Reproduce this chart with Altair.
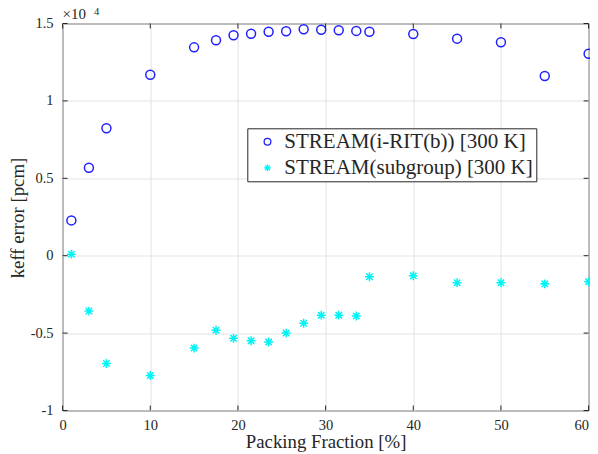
import altair as alt
import pandas as pd

# Packing fraction [%]
packing = [1, 3, 5, 10, 15, 17.5, 19.5, 21.5, 23.5, 25.5, 27.5, 29.5, 31.5, 33.5, 35, 40, 45, 50, 55, 60]
# keff error [pcm]
irit_err = [2280, 5680, 8230, 11690, 13460, 13920, 14240, 14340, 14470, 14500,
            14630, 14600, 14560, 14520, 14470, 14320, 14020, 13790, 11610, 13050]
subgroup_err = [100, -3580, -6960, -7740, -5970, -4810, -5330, -5500, -5580, -5000,
                -4360, -3840, -3840, -3900, -1360, -1300, -1750, -1750, -1820, -1690]
series_names = ["STREAM(i-RIT(b)) [300 K]", "STREAM(subgroup) [300 K]"]
x_ticks = [0, 10, 20, 30, 40, 50, 60]
y_ticks = [-10000, -5000, 0, 5000, 10000, 15000]

df = pd.DataFrame({
    "x": packing * 2,
    "y": irit_err + subgroup_err,
    "series": [series_names[0]] * len(packing) + [series_names[1]] * len(packing),
})

FONT = "Liberation Serif"
TXT = "#262626"
W, H = 526, 387
asterisk = "M0,-1L0,1M-1,0L1,0M-0.72,-0.72L0.72,0.72M-0.72,0.72L0.72,-0.72"

xscale = alt.Scale(domain=[0, 60], nice=False, zero=False)
yscale = alt.Scale(domain=[-10000, 15000], nice=False, zero=False)

points = alt.Chart(df).mark_point(filled=False, size=80, strokeWidth=1.5, opacity=1).encode(
    x=alt.X("x:Q", scale=xscale,
            axis=alt.Axis(values=x_ticks, title="Packing Fraction [%]", labelPadding=8,
                          labelFlush=False, labelOverlap=False, titleY=36.7,
                          labelAlign={"condition": {"test": "datum.value == 60", "value": "right"},
                                      "value": "center"},
                          titleBaseline="alphabetic", grid=True)),
    y=alt.Y("y:Q", scale=yscale,
            axis=alt.Axis(values=y_ticks, title="keff error [pcm]", labelPadding=9.5,
                          labelExpr="toString(datum.value / 10000)", labelFlush=False,
                          labelOverlap=False, titleX=-45, titleY=194, titleAlign="center",
                          titleBaseline="middle", titleAngle=270, grid=True)),
    color=alt.Color("series:N", scale=alt.Scale(domain=series_names, range=["#2020ff", "#00f4f4"]),
                    legend=alt.Legend(title=None)),
    shape=alt.Shape("series:N", scale=alt.Scale(domain=series_names, range=["circle", asterisk]),
                    legend=alt.Legend(title=None)),
)

xt = pd.DataFrame({"x": x_ticks})
yt = pd.DataFrame({"y": y_ticks})
tick_bottom = alt.Chart(xt).mark_rule(color=TXT, strokeWidth=1).encode(
    x=alt.X("x:Q", scale=xscale), y=alt.value(H), y2=alt.value(H - 5))
tick_top = alt.Chart(xt).mark_rule(color=TXT, strokeWidth=1).encode(
    x=alt.X("x:Q", scale=xscale), y=alt.value(0), y2=alt.value(5))
tick_left = alt.Chart(yt).mark_rule(color=TXT, strokeWidth=1).encode(
    y=alt.Y("y:Q", scale=yscale), x=alt.value(0), x2=alt.value(5))
tick_right = alt.Chart(yt).mark_rule(color=TXT, strokeWidth=1).encode(
    y=alt.Y("y:Q", scale=yscale), x=alt.value(W), x2=alt.value(W - 5))

exp_base = alt.Chart(pd.DataFrame({"t": ["×10"]})).mark_text(
    font=FONT, fontSize=15, color=TXT, align="left", baseline="alphabetic").encode(
    text="t:N", x=alt.value(0), y=alt.value(-4.5))
exp_sup = alt.Chart(pd.DataFrame({"t": ["4"]})).mark_text(
    font=FONT, fontSize=10.5, color=TXT, align="left", baseline="alphabetic").encode(
    text="t:N", x=alt.value(31.5), y=alt.value(-9))

chart = alt.layer(points, tick_bottom, tick_top, tick_left, tick_right, exp_base, exp_sup).properties(
    width=W, height=H,
    padding={"left": 54.6, "top": 15.5, "right": 1.4, "bottom": 44},
    autosize=alt.AutoSizeParams(type="none"),
    background="white",
).configure_view(
    stroke=TXT, strokeWidth=1,
).configure_axis(
    labelFont=FONT, labelFontSize=14.5, labelColor=TXT,
    titleFont=FONT, titleFontSize=18.8, titleFontWeight="normal", titleColor=TXT,
    ticks=False, domain=False, gridColor="#e3e3e3", gridWidth=1,
).configure_legend(
    orient="none", legendX=184.7, legendY=104.8,
    padding=3, symbolOffset=6.7, rowPadding=4,
    strokeColor=TXT, fillColor="white",
    labelFont=FONT, labelFontSize=21, labelColor=TXT, labelLimit=400, labelOffset=6.3,
    symbolSize=45, symbolStrokeWidth=1.3, cornerRadius=0,
)

chart.save("out.html", embed_options={"renderer": "svg", "actions": False})
